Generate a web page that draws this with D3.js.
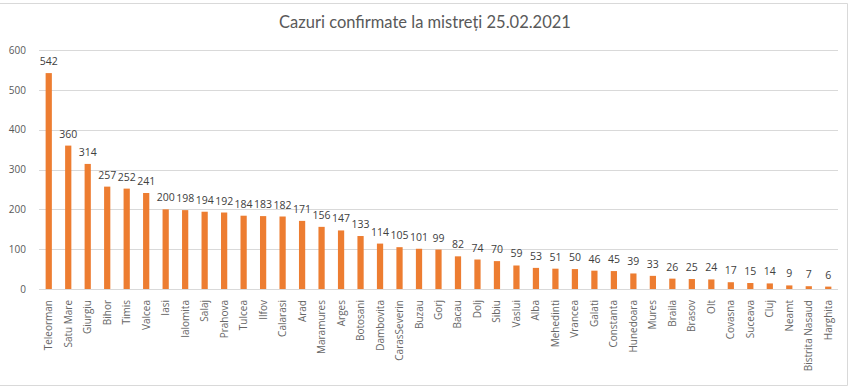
<!DOCTYPE html>
<html>
<head>
<meta charset="utf-8">
<script src="https://cdn.jsdelivr.net/npm/d3@7"></script>
<style>
  body { margin: 0; background: #fff; }
  svg text { font-family: "Open Sans", sans-serif; }
</style>
</head>
<body>
<svg id="chart" width="855" height="388"></svg>
<script>
const counties = [
  "Teleorman", "Satu Mare", "Giurgiu", "Bihor", "Timis", "Valcea", "Iasi",
  "Ialomita", "Salaj", "Prahova", "Tulcea", "Ilfov", "Calarasi", "Arad",
  "Maramures", "Arges", "Botosani", "Dambovita", "CarasSeverin", "Buzau",
  "Gorj", "Bacau", "Dolj", "Sibiu", "Vaslui", "Alba", "Mehedinti", "Vrancea",
  "Galati", "Constanta", "Hunedoara", "Mures", "Braila", "Brasov", "Olt",
  "Covasna", "Suceava", "Cluj", "Neamt", "Bistrita Nasaud", "Harghita"
];
const cases = [
  542, 360, 314, 257, 252, 241, 200, 198, 194, 192, 184, 183, 182, 171,
  156, 147, 133, 114, 105, 101, 99, 82, 74, 70, 59, 53, 51, 50,
  46, 45, 39, 33, 26, 25, 24, 17, 15, 14, 9, 7, 6
];
const yTicks = [0, 100, 200, 300, 400, 500, 600];
const title = "Cazuri confirmate la mistreți 25.02.2021";

const data = counties.map((name, i) => ({ name, value: cases[i] }));

const svg = d3.select("#chart");
const margin = { left: 39, right: 838, top: 50, bottom: 289 };

// chart frame
svg.append("path")
  .attr("d", "M0,3.5 H847.5 V385.5 H0")
  .attr("fill", "none")
  .attr("stroke", "#d9d9d9");

const x = d3.scaleBand()
  .domain(counties)
  .range([margin.left, margin.right])
  .paddingInner(0.68)
  .paddingOuter(0.34);

const y = d3.scaleLinear()
  .domain([0, 600])
  .range([margin.bottom, margin.top]);

// gridlines
svg.append("g")
  .selectAll("line")
  .data(yTicks)
  .join("line")
  .attr("x1", margin.left)
  .attr("x2", margin.right)
  .attr("y1", d => Math.round(y(d)) + 0.5)
  .attr("y2", d => Math.round(y(d)) + 0.5)
  .attr("stroke", "#d9d9d9");

// y axis labels
const yAxis = d3.axisLeft(y).tickValues(yTicks).tickSize(0).tickPadding(13);
svg.append("g")
  .attr("transform", `translate(${margin.left},0)`)
  .call(yAxis)
  .call(g => g.select(".domain").remove())
  .selectAll("text")
  .attr("fill", "#595959")
  .style("font-size", "10px");

// bars
svg.append("g")
  .selectAll("rect")
  .data(data)
  .join("rect")
  .attr("x", d => x(d.name))
  .attr("y", d => y(d.value))
  .attr("width", x.bandwidth())
  .attr("height", d => y(0) - y(d.value))
  .attr("fill", "#ed7d31");

// value labels
svg.append("g")
  .selectAll("text")
  .data(data)
  .join("text")
  .attr("x", d => x(d.name) + x.bandwidth() / 2)
  .attr("y", d => y(d.value) - 8)
  .attr("text-anchor", "middle")
  .attr("fill", "#404040")
  .style("font-size", "10.5px")
  .text(d => d.value);

// x axis category labels
const xAxis = d3.axisBottom(x).tickSize(0).tickPadding(0);
svg.append("g")
  .attr("transform", `translate(0,${margin.bottom})`)
  .call(xAxis)
  .call(g => g.select(".domain").remove())
  .selectAll("text")
  .attr("transform", "rotate(-90)")
  .attr("x", -11)
  .attr("y", 0)
  .attr("dy", "0.35em")
  .attr("text-anchor", "end")
  .attr("fill", "#666")
  .style("font-size", "10px");

// title
svg.append("text")
  .attr("x", 425)
  .attr("y", 28)
  .attr("text-anchor", "middle")
  .attr("fill", "#595959")
  .style("font-family", "Lato, sans-serif")
  .style("font-size", "16.5px")
  .text(title);
</script>
</body>
</html>
